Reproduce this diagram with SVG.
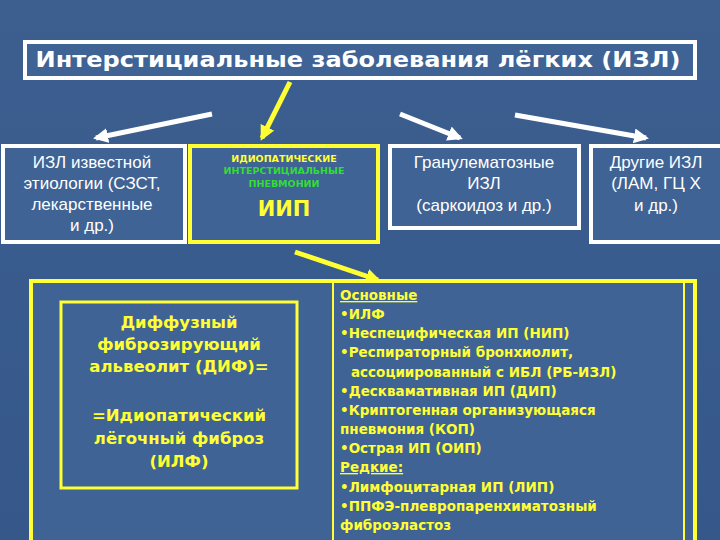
<svg xmlns="http://www.w3.org/2000/svg" width="720" height="540" viewBox="0 0 720 540">
<defs>
<linearGradient id="bg" x1="0" y1="0" x2="0" y2="1"><stop offset="0" stop-color="#3c5f90"/><stop offset="1" stop-color="#35578a"/></linearGradient>
<marker id="aw" viewBox="0 0 10 10" refX="8" refY="5" markerWidth="3" markerHeight="3" orient="auto"><path d="M0,0 L10,5 L0,10 z" fill="#fff"/></marker>
<marker id="ay" viewBox="0 0 10 10" refX="8" refY="5" markerWidth="3" markerHeight="3" orient="auto"><path d="M0,0 L10,5 L0,10 z" fill="#ffff33"/></marker>
</defs>
<style>
.wb{fill:#3f6394;stroke:#fff;stroke-width:4}
.yb{fill:#3f6394;stroke:#ffff33;stroke-width:4}
.wt{font-family:"Liberation Sans",Arial,sans-serif;fill:#fff;font-size:17px;text-anchor:middle}
.yt{font-family:"DejaVu Sans",sans-serif;fill:#ffff33;font-weight:bold;font-size:13.5px}
.wl{stroke:#fff;stroke-width:5;marker-end:url(#aw);fill:none}
.yl{stroke:#ffff33;stroke-width:5;marker-end:url(#ay);fill:none}
</style>
<rect width="720" height="540" fill="url(#bg)"/>
<g id="connectors">
<line class="wl" x1="212" y1="114" x2="96" y2="138"/>
<line class="yl" x1="290" y1="82" x2="262" y2="138"/>
<line class="wl" x1="400" y1="114" x2="460" y2="138"/>
<line class="wl" x1="515" y1="115" x2="646" y2="138"/>
<line class="yl" x1="295" y1="252" x2="378" y2="280"/>
</g>
<g id="title">
<rect class="wb" x="25" y="42" width="670" height="36"/>
<text x="358" y="67" class="wt" style="font-family:'DejaVu Sans',sans-serif;font-weight:bold;font-size:20.5px" textLength="645" lengthAdjust="spacingAndGlyphs">Интерстициальные заболевания лёгких (ИЗЛ)</text>
</g>
<g id="known">
<rect class="wb" x="3" y="146" width="182" height="96"/>
<text class="wt"><tspan x="92" y="168">ИЗЛ известной</tspan><tspan x="92" y="189">этиологии (СЗСТ,</tspan><tspan x="92" y="210">лекарственные</tspan><tspan x="92" y="231">и др.)</tspan></text>
</g>
<g id="iip">
<rect class="yb" x="190" y="146" width="188" height="96"/>
<text x="284" y="162" style="font-family:'DejaVu Sans',sans-serif;font-weight:bold;font-size:9.5px;fill:#ffff33;text-anchor:middle">ИДИОПАТИЧЕСКИЕ</text>
<text x="284" y="174" style="font-family:'DejaVu Sans',sans-serif;font-weight:bold;font-size:9.5px;fill:#33dd33;text-anchor:middle">ИНТЕРСТИЦИАЛЬНЫЕ</text>
<text x="284" y="187" style="font-family:'DejaVu Sans',sans-serif;font-weight:bold;font-size:9.5px;fill:#33dd33;text-anchor:middle">ПНЕВМОНИИ</text>
<text x="284" y="216" style="font-family:'DejaVu Sans',sans-serif;font-weight:bold;font-size:21px;fill:#ffff33;text-anchor:middle">ИИП</text>
</g>
<g id="gran">
<rect class="wb" x="390" y="146" width="189" height="82"/>
<text class="wt"><tspan x="484" y="168">Гранулематозные</tspan><tspan x="484" y="189">ИЗЛ</tspan><tspan x="484" y="211">(саркоидоз и др.)</tspan></text>
</g>
<g id="other">
<rect class="wb" x="591" y="146" width="131" height="96"/>
<text class="wt"><tspan x="656" y="168">Другие ИЗЛ</tspan><tspan x="656" y="189">(ЛАМ, ГЦ Х</tspan><tspan x="656" y="211">и др.)</tspan></text>
</g>
<g id="bottom">
<rect class="yb" x="31" y="281" width="664" height="262"/>
<line x1="333" y1="281" x2="333" y2="540" stroke="#ffff33" stroke-width="2"/>
<line x1="684" y1="281" x2="684" y2="540" stroke="#ffff33" stroke-width="2"/>
</g>
<g id="dif">
<rect x="61" y="302" width="236" height="186" fill="none" stroke="#ffff33" stroke-width="3"/>
<text class="yt" style="font-size:16.5px;text-anchor:middle"><tspan x="179" y="328">Диффузный</tspan><tspan x="179" y="350">фиброзирующий</tspan><tspan x="179" y="372">альвеолит (ДИФ)=</tspan><tspan x="179" y="421">=Идиопатический</tspan><tspan x="179" y="444">лёгочный фиброз</tspan><tspan x="179" y="467">(ИЛФ)</tspan></text>
</g>
<g id="list">
<text class="yt">
<tspan x="340" y="300" text-decoration="underline">Основные</tspan>
<tspan x="340" y="319">•ИЛФ</tspan>
<tspan x="340" y="338">•Неспецифическая ИП (НИП)</tspan>
<tspan x="340" y="357">•Респираторный бронхиолит,</tspan>
<tspan x="351" y="377">ассоциированный с ИБЛ (РБ-ИЗЛ)</tspan>
<tspan x="340" y="396">•Десквамативная ИП (ДИП)</tspan>
<tspan x="340" y="415">•Криптогенная организующаяся</tspan>
<tspan x="340" y="434">пневмония (КОП)</tspan>
<tspan x="340" y="453">•Острая ИП (ОИП)</tspan>
<tspan x="340" y="472" text-decoration="underline">Редкие:</tspan>
<tspan x="340" y="492">•Лимфоцитарная ИП (ЛИП)</tspan>
<tspan x="340" y="511">•ППФЭ-плевропаренхиматозный</tspan>
<tspan x="340" y="530">фиброэластоз</tspan>
</text>
</g>
</svg>
